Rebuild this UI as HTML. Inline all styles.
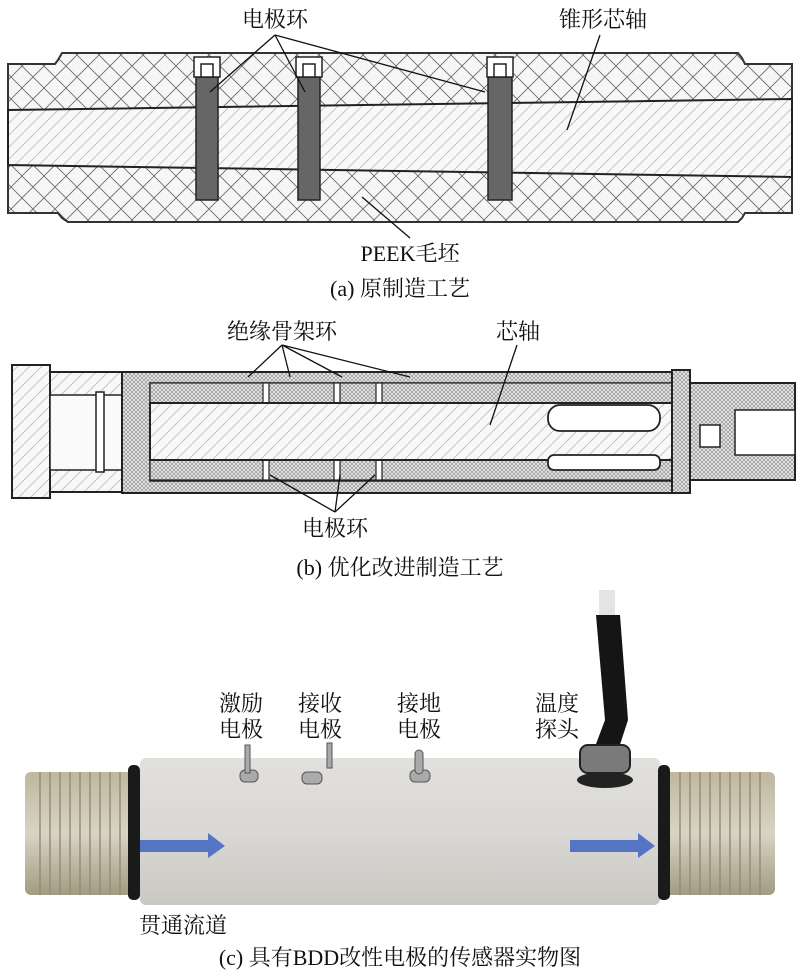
<!DOCTYPE html>
<html><head><meta charset="utf-8"><style>
body{margin:0;background:#fff;}
svg{display:block;}
text{font-family:"Liberation Serif","Noto Serif CJK SC","Noto Sans CJK SC",serif;fill:#111;}
</style></head><body>
<svg width="800" height="977" viewBox="0 0 800 977" xmlns="http://www.w3.org/2000/svg">
<defs>
<pattern id="xh" width="22" height="22" patternUnits="userSpaceOnUse">
<rect width="22" height="22" fill="#f6f6f6"/>
<path d="M0 0L22 22M22 0L0 22" stroke="#666" stroke-width="0.8"/>
</pattern>
<pattern id="dg" width="12" height="12" patternUnits="userSpaceOnUse">
<rect width="12" height="12" fill="#f8f8f8"/>
<path d="M0 12L12 0" stroke="#bbb" stroke-width="0.8"/>
</pattern>
<pattern id="dot" width="4" height="4" patternUnits="userSpaceOnUse">
<rect width="4" height="4" fill="#e6e6e6"/>
<path d="M0 0L4 4M4 0L0 4" stroke="#888" stroke-width="0.6"/>
</pattern>
<linearGradient id="bodyg" x1="0" y1="0" x2="0" y2="1">
<stop offset="0" stop-color="#e2e0dc"/><stop offset="0.5" stop-color="#dad8d4"/><stop offset="1" stop-color="#cac8c3"/>
</linearGradient>
<linearGradient id="thr" x1="0" y1="0" x2="0" y2="1">
<stop offset="0" stop-color="#bfb79f"/><stop offset="0.5" stop-color="#d8d3c4"/><stop offset="1" stop-color="#a39b82"/>
</linearGradient>
</defs>

<!-- (a) -->
<path d="M8 64 L55 64 L58 60 L62 53 L68 53 L68 53 L738 53 L742 58 L745 64 L792 64 L792 213 L745 213 L742 218 L738 222 L68 222 L62 218 L58 213 L8 213 Z" fill="url(#xh)" stroke="#333" stroke-width="2"/>
<path d="M8 110 L792 99 L792 177 L8 165 Z" fill="url(#dg)" stroke="#222" stroke-width="2"/>
<g fill="#666" stroke="#222" stroke-width="1.5">
<rect x="196" y="77" width="22" height="123"/>
<rect x="298" y="77" width="22" height="123"/>
<rect x="488" y="77" width="24" height="123"/>
</g>
<g fill="#fff" stroke="#222" stroke-width="1.5">
<rect x="194" y="57" width="26" height="20"/><rect x="201" y="64" width="12" height="13"/>
<rect x="296" y="57" width="26" height="20"/><rect x="303" y="64" width="12" height="13"/>
<rect x="487" y="57" width="26" height="20"/><rect x="494" y="64" width="12" height="13"/>
</g>
<g stroke="#111" stroke-width="1.3" fill="none">
<path d="M275 35 L210 92 M275 35 L305 92 M275 35 L485 92"/>
<path d="M600 35 L567 130"/>
<path d="M410 238 L362 197"/>
</g>
<text x="275" y="27" font-size="22" text-anchor="middle">电极环</text>
<text x="603" y="27" font-size="22" text-anchor="middle">锥形芯轴</text>
<text x="410" y="261" font-size="22" text-anchor="middle">PEEK毛坯</text>
<text x="400" y="296" font-size="22" text-anchor="middle">(a) 原制造工艺</text>

<!-- (b) -->
<rect x="12" y="365" width="38" height="133" fill="url(#dg)" stroke="#222" stroke-width="2"/>
<path d="M50 372 L122 372 L122 383 L150 383 L150 480 L122 480 L122 492 L50 492 Z" fill="url(#dg)" stroke="#222" stroke-width="2"/>
<rect x="50" y="395" width="100" height="75" fill="#fafafa" stroke="#222" stroke-width="1.5"/>
<rect x="96" y="392" width="8" height="80" fill="#fff" stroke="#222" stroke-width="1.5"/>
<rect x="122" y="372" width="552" height="121" fill="url(#dot)" stroke="#222" stroke-width="2"/>
<rect x="150" y="383" width="524" height="98" fill="#f4f4f4" stroke="#222" stroke-width="1.5"/>
<rect x="150" y="383" width="522" height="20" fill="url(#dot)" stroke="#222" stroke-width="1.2"/>
<rect x="150" y="460" width="522" height="20" fill="url(#dot)" stroke="#222" stroke-width="1.2"/>
<g fill="#fff" stroke="#222" stroke-width="1.2">
<rect x="263" y="383" width="6" height="20"/><rect x="334" y="383" width="6" height="20"/><rect x="376" y="383" width="6" height="20"/>
<rect x="263" y="460" width="6" height="20"/><rect x="334" y="460" width="6" height="20"/><rect x="376" y="460" width="6" height="20"/>
</g>
<rect x="150" y="403" width="530" height="57" fill="url(#dg)" stroke="#222" stroke-width="2"/>
<rect x="548" y="405" width="112" height="26" rx="12" fill="#fff" stroke="#222" stroke-width="1.8"/>
<rect x="548" y="455" width="112" height="15" rx="6" fill="#fff" stroke="#222" stroke-width="1.8"/>
<rect x="672" y="370" width="18" height="123" fill="url(#dot)" stroke="#222" stroke-width="2"/>
<path d="M690 383 L795 383 L795 480 L690 480 Z" fill="url(#dot)" stroke="#222" stroke-width="2"/>
<rect x="735" y="410" width="60" height="45" fill="#fff" stroke="#222" stroke-width="1.5"/>
<rect x="700" y="425" width="20" height="22" fill="#fff" stroke="#222" stroke-width="1.5"/>
<g stroke="#111" stroke-width="1.3" fill="none">
<path d="M282 345 L248 377 M282 345 L290 377 M282 345 L342 377 M282 345 L410 377"/>
<path d="M517 345 L490 425"/>
<path d="M335 512 L270 475 M335 512 L340 475 M335 512 L375 475"/>
</g>
<text x="282" y="339" font-size="22" text-anchor="middle">绝缘骨架环</text>
<text x="518" y="339" font-size="22" text-anchor="middle">芯轴</text>
<text x="335" y="536" font-size="22" text-anchor="middle">电极环</text>
<text x="400" y="575" font-size="22" text-anchor="middle">(b) 优化改进制造工艺</text>

<!-- (c) -->
<rect x="25" y="772" width="112" height="123" rx="6" fill="url(#thr)"/>
<g stroke="#958d76" stroke-width="1.5">
<path d="M40 772V895M50 772V895M60 772V895M70 772V895M80 772V895M90 772V895M100 772V895M110 772V895M120 772V895"/>
</g>
<rect x="663" y="772" width="112" height="123" rx="6" fill="url(#thr)"/>
<g stroke="#958d76" stroke-width="1.5">
<path d="M680 772V895M690 772V895M700 772V895M710 772V895M720 772V895M730 772V895M740 772V895M750 772V895M760 772V895"/>
</g>
<rect x="140" y="758" width="520" height="147" rx="6" fill="url(#bodyg)"/>
<rect x="128" y="765" width="12" height="135" rx="5" fill="#1a1a1a"/>
<rect x="658" y="765" width="12" height="135" rx="5" fill="#1a1a1a"/>
<!-- cable -->
<rect x="599" y="590" width="16" height="30" fill="#e4e4e4"/>
<path d="M596 615 L620 615 L628 720 L615 760 L590 760 L605 720 Z" fill="#151515"/>
<rect x="580" y="745" width="50" height="28" rx="8" fill="#7a7a7a" stroke="#222" stroke-width="2"/>
<ellipse cx="605" cy="780" rx="28" ry="8" fill="#222"/>
<!-- terminals -->
<g fill="#aaa" stroke="#555" stroke-width="1">
<rect x="240" y="770" width="18" height="12" rx="5"/><rect x="245" y="745" width="5" height="28"/>
<rect x="302" y="772" width="20" height="12" rx="5"/><rect x="327" y="743" width="5" height="25"/>
<rect x="410" y="770" width="20" height="12" rx="5"/><rect x="415" y="750" width="8" height="24" rx="4"/>
</g>
<!-- arrows -->
<path d="M140 840 L208 840 L208 833 L225 846 L208 858 L208 852 L140 852 Z" fill="#5574c4"/>
<path d="M570 840 L638 840 L638 833 L655 846 L638 858 L638 852 L570 852 Z" fill="#5574c4"/>
<g font-size="22" text-anchor="middle">
<text x="241" y="711">激励</text><text x="241" y="737">电极</text>
<text x="320" y="711">接收</text><text x="320" y="737">电极</text>
<text x="419" y="711">接地</text><text x="419" y="737">电极</text>
<text x="557" y="711">温度</text><text x="557" y="737">探头</text>
<text x="183" y="933">贯通流道</text>
<text x="400" y="965">(c) 具有BDD改性电极的传感器实物图</text>
</g>
</svg>
</body></html>
